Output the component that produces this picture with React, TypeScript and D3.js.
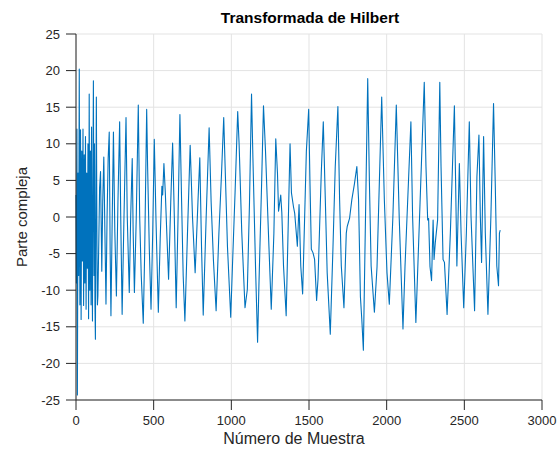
import * as d3 from "d3";

const WIDTH = 560;
const HEIGHT = 451;
const MARGIN = { top: 34, right: 18, bottom: 51, left: 76 };

const X_TICKS = [0, 500, 1000, 1500, 2000, 2500, 3000];
const Y_TICKS = [-25, -20, -15, -10, -5, 0, 5, 10, 15, 20, 25];

// [muestra, parte compleja]
const senal: [number, number][] = [
  [0, 3], [3, -9], [6, 12], [9, -24.3], [13, 6], [17, -8], [21, 20.2], [25, -12],
  [29, 11.9], [33, -14], [37, 9], [41, -6], [45, 12], [49, -12.1], [53, 8.5], [57, -9],
  [61, 11], [65, -12.6], [69, 6], [73, -7], [77, 10], [81, -13.9], [85, 16.8], [89, -10],
  [93, 9], [97, -12], [100, 12.3], [103, -6], [106, -14.2], [109, 5], [112, 18.6], [116, -8],
  [119, 10], [122, -12], [125, -16.7], [128, 2], [131, 16.4], [135, -4], [138, -12], [141, -10.8],
  [147, -3], [152, 4], [158, 6.2], [166, -7.4], [172, 2], [179, 8.2], [186, -2], [193, -11.9],
  [200, 0], [207, 8], [214, 11.6], [220, -5], [225, -13.5], [232, -2], [241, 11.6], [250, -2],
  [260, -10.8], [270, 2], [281, 13], [288, 0], [297, -13.3], [308, -1], [322, 13.6], [330, 0],
  [343, -10.3], [352, 0], [362, 8], [368, -2], [376, -10.3], [388, 0], [401, 15.3], [410, 0],
  [420, -8], [433, -14.5], [442, -5], [455, 14.7], [461, 6.9], [472, -4.4], [483, -12.6], [494, -2],
  [504, 10.6], [515, -0.4], [530, -13], [542, -3], [553, 4.2], [558, 3], [566, 7.3], [575, 3.3],
  [586, -3], [596, -8.5], [610, 2], [622, 10.1], [633, 0], [645, -12.4], [657, 0], [669, 14],
  [680, 2], [690, -8], [701, -14.2], [718, -2], [735, 9.8], [750, 0], [767, -7.6], [785, 2],
  [797, 8.1], [808, -4], [819, -13.4], [838, 0], [857, 12.2], [870, 2], [885, -6], [902, -12.8],
  [920, -2.2], [937, 6], [951, 13.6], [960, 6.9], [975, -4], [996, -13.7], [1007, -6.8], [1024, 3.3],
  [1041, 14.4], [1050, 10], [1067, -2], [1088, -12.4], [1103, -9.9], [1117, 2], [1130, 16.8], [1139, 8],
  [1156, -7], [1169, -17.1], [1178, -9], [1195, 4.6], [1207, 15.2], [1220, 9], [1242, -4], [1257, -12.6],
  [1274, -2.2], [1286, 10.7], [1297, 6], [1304, 0.8], [1318, 3], [1325, 0.6], [1336, -6.7], [1353, -13.5],
  [1378, 10], [1387, 3.3], [1400, 1.4], [1408, 0.5], [1425, -4], [1436, 1.7], [1447, -6.7], [1459, -10.5],
  [1472, 0], [1483, 9], [1498, 14.7], [1506, 5], [1515, -4.4], [1526, -4.9], [1536, -5.8], [1549, -11.4],
  [1558, -8.5], [1579, 6], [1592, 13], [1605, 2.4], [1617, -7.6], [1637, -16], [1654, -4.4], [1669, 6.9],
  [1686, 15.1], [1697, 2.4], [1708, -6.7], [1725, -12.4], [1740, -2.2], [1746, -1.3], [1761, -0.2], [1776, 2.4],
  [1793, 4.6], [1808, 6.9], [1819, 2.4], [1831, -10.9], [1840, -14], [1850, -18.2], [1878, 18.9], [1889, 4.6],
  [1900, -6.7], [1921, -13], [1938, -6.8], [1968, 16.4], [1985, 2.4], [2002, -7.6], [2017, -11.9], [2040, 0],
  [2062, 15.3], [2081, -0.2], [2105, -15.3], [2118, -6.8], [2156, 13], [2167, 0], [2188, -14.4], [2215, 2],
  [2242, 18.4], [2253, 6.9], [2264, -0.4], [2270, -0.2], [2279, -6.8], [2289, -8.7], [2299, -0.4], [2305, -5.8],
  [2313, -3.5], [2328, -0.4], [2342, 18.4], [2350, 6.9], [2363, -5.8], [2372, -6.2], [2389, -13.3], [2410, -2.2],
  [2436, 15.2], [2444, 4.6], [2452, -6.7], [2468, 7.3], [2479, -2.2], [2496, -12.4], [2513, -2.2], [2532, 13],
  [2543, 0.1], [2555, -6.7], [2566, -12.8], [2581, 5.5], [2594, 11.2], [2603, 0.1], [2611, -6.2], [2624, 11],
  [2635, -2.2], [2652, -13.3], [2671, 0.1], [2688, 15.5], [2699, 4.6], [2709, -6.7], [2720, -9.4], [2726, -2.2],
  [2731, -1.8],
];

const FONT = "'Liberation Sans', Arial, Helvetica, sans-serif";
const AXIS_COLOR = "#262626";
const GRID_COLOR = "#e3e3e3";

export default function App() {
  const x0 = MARGIN.left;
  const x1 = WIDTH - MARGIN.right;
  const y0 = HEIGHT - MARGIN.bottom;
  const y1 = MARGIN.top;

  const xScale = d3.scaleLinear().domain([0, 3000]).range([x0, x1]);
  const yScale = d3.scaleLinear().domain([-25, 25]).range([y0, y1]);

  const line = d3
    .line<[number, number]>()
    .x((d) => xScale(d[0]))
    .y((d) => yScale(d[1]));

  return (
    <div style={{ position: "absolute", left: 0, top: 0 }}>
      <svg width={WIDTH} height={HEIGHT} style={{ display: "block", background: "#fff" }}>
        {/* grid */}
        {X_TICKS.map((t) => (
          <line key={"gx" + t} x1={xScale(t)} x2={xScale(t)} y1={y1} y2={y0} stroke={GRID_COLOR} strokeWidth={1} />
        ))}
        {Y_TICKS.map((t) => (
          <line key={"gy" + t} x1={x0} x2={x1} y1={yScale(t)} y2={yScale(t)} stroke={GRID_COLOR} strokeWidth={1} />
        ))}

        {/* signal */}
        <path d={line(senal) ?? ""} fill="none" stroke="#0072BD" strokeWidth={1.1} strokeLinejoin="round" />

        {/* axes */}
        <line x1={x0} x2={x0} y1={y1} y2={y0} stroke={AXIS_COLOR} strokeWidth={1} />
        <line x1={x0} x2={x1} y1={y0} y2={y0} stroke={AXIS_COLOR} strokeWidth={1} />
        {X_TICKS.map((t) => (
          <g key={"tx" + t}>
            <line x1={xScale(t)} x2={xScale(t)} y1={y0} y2={y0 + 10} stroke={AXIS_COLOR} strokeWidth={1} />
            <text x={xScale(t)} y={y0 + 25} textAnchor="middle" fontFamily={FONT} fontSize={13} fill={AXIS_COLOR}>
              {t}
            </text>
          </g>
        ))}
        {Y_TICKS.map((t) => (
          <g key={"ty" + t}>
            <line x1={x0 - 10} x2={x0} y1={yScale(t)} y2={yScale(t)} stroke={AXIS_COLOR} strokeWidth={1} />
            <text x={x0 - 16} y={yScale(t)} dy="0.35em" textAnchor="end" fontFamily={FONT} fontSize={13} fill={AXIS_COLOR}>
              {t}
            </text>
          </g>
        ))}

        {/* labels */}
        <text x={310} y={23} textAnchor="middle" fontFamily={FONT} fontSize={15.5} fontWeight="bold" fill="#000">
          Transformada de Hilbert
        </text>
        <text x={294} y={444} textAnchor="middle" fontFamily={FONT} fontSize={16} fill={AXIS_COLOR}>
          Número de Muestra
        </text>
        <text
          transform={`translate(27, ${yScale(0)}) rotate(-90)`}
          textAnchor="middle"
          fontFamily={FONT}
          fontSize={15}
          fill={AXIS_COLOR}
        >
          Parte compleja
        </text>
      </svg>
    </div>
  );
}
